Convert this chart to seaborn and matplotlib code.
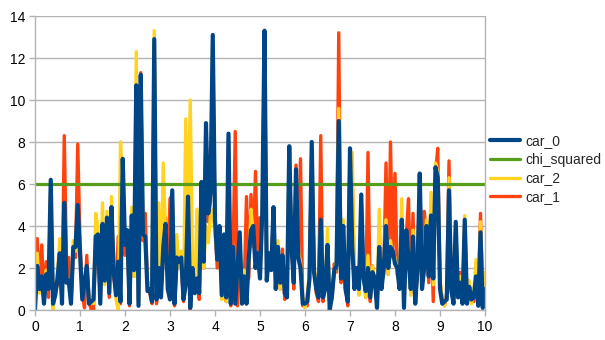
import numpy as np
import pandas as pd
import matplotlib
matplotlib.use("Agg")
import matplotlib.pyplot as plt
import seaborn as sns

# sample times (step 0.05 over 0..10)
t = np.round(np.arange(201) * 0.05, 2)

car_0 = [
    0.0, 2.1, 1.0, 1.6, 0.3, 1.7, 1.0, 6.2, 0.3, 0.7,
    1.5, 2.7, 0.3, 5.1, 1.3, 1.4, 0.3, 3.0, 3.0, 5.0,
    2.8, 0.5, 1.3, 2.1, 0.3, 0.4, 0.5, 3.5, 3.6, 0.3,
    4.1, 1.4, 4.4, 0.8, 4.9, 1.8, 0.7, 2.3, 0.4, 7.2,
    3.1, 3.8, 0.3, 4.5, 1.9, 10.7, 0.2, 11.2, 3.6, 3.5,
    0.9, 1.0, 0.4, 12.9, 0.5, 2.0, 0.6, 3.0, 4.1, 1.0,
    0.5, 5.7, 0.3, 2.5, 2.3, 2.5, 0.5, 1.2, 5.4, 0.1,
    2.0, 0.8, 1.5, 0.8, 6.1, 2.3, 8.9, 4.6, 5.6, 13.1,
    4.3, 2.4, 4.0, 0.7, 3.6, 0.6, 8.4, 0.3, 3.0, 0.3,
    2.0, 3.7, 0.3, 1.6, 0.3, 2.5, 3.8, 4.0, 2.0, 2.7,
    1.5, 4.6, 13.3, 1.4, 2.7, 1.9, 4.9, 1.0, 3.0, 1.3,
    2.6, 0.8, 0.6, 7.8, 3.0, 1.3, 6.7, 2.5, 2.0, 0.3,
    0.3, 0.4, 1.5, 8.0, 1.8, 1.0, 0.6, 4.3, 0.6, 1.0,
    3.1, 0.0, 0.7, 1.9, 2.1, 9.0, 1.5, 4.0, 1.0, 0.4,
    7.7, 3.0, 1.0, 2.0, 1.0, 5.5, 1.5, 0.9, 2.0, 0.6,
    1.8, 1.5, 0.1, 3.0, 1.0, 2.0, 4.0, 2.0, 3.0, 2.8,
    2.2, 2.0, 1.0, 4.3, 0.1, 3.8, 2.5, 1.0, 3.5, 0.3,
    2.0, 6.5, 1.0, 2.0, 4.0, 1.6, 4.5, 1.5, 6.8, 6.3,
    1.0, 0.3, 0.4, 0.5, 5.7, 1.0, 0.3, 4.2, 0.6, 1.3,
    0.3, 4.3, 0.3, 1.1, 0.5, 0.6, 1.6, 0.2, 3.7, 0.1,
    1.0,
]

car_1 = [
    0.2, 3.4, 1.2, 3.1, 0.5, 2.3, 0.6, 5.8, 0.1, 0.9,
    1.2, 2.4, 0.4, 8.3, 2.4, 2.5, 0.4, 2.7, 2.5, 7.9,
    3.3, 0.8, 0.1, 2.6, 0.4, 0.0, 0.0, 3.2, 3.4, 0.4,
    3.8, 1.8, 4.2, 0.6, 4.5, 1.5, 0.9, 3.5, 0.3, 6.9,
    2.6, 3.4, 0.2, 4.7, 1.6, 10.3, 0.4, 11.3, 3.3, 4.6,
    1.1, 0.8, 0.3, 12.6, 0.3, 1.8, 0.8, 2.6, 4.4, 1.5,
    5.3, 5.5, 0.2, 2.1, 2.6, 2.2, 0.4, 1.5, 6.5, 0.0,
    1.7, 1.0, 1.2, 0.5, 5.8, 2.0, 8.6, 4.2, 5.2, 12.8,
    4.0, 2.0, 3.5, 1.0, 3.2, 0.4, 8.1, 0.2, 2.6, 8.5,
    0.2, 3.4, 0.5, 1.3, 5.4, 1.5, 5.5, 3.0, 6.6, 2.4,
    4.4, 4.2, 12.6, 1.7, 2.4, 2.2, 4.5, 1.3, 2.7, 1.0,
    2.9, 0.5, 0.9, 7.4, 3.3, 1.0, 6.9, 2.8, 7.2, 0.2,
    0.5, 0.2, 1.8, 7.6, 2.1, 0.8, 0.4, 8.3, 0.4, 1.3,
    2.0, 0.2, 0.5, 2.2, 1.8, 13.2, 1.3, 4.2, 1.3, 0.2,
    7.4, 6.2, 1.3, 1.7, 1.3, 5.2, 1.8, 0.6, 7.5, 0.4,
    2.1, 1.2, 0.4, 2.7, 1.3, 1.7, 7.0, 1.7, 8.0, 2.5,
    6.5, 1.7, 1.3, 4.0, 0.4, 3.5, 5.3, 0.8, 4.6, 0.5,
    1.7, 6.2, 1.3, 4.7, 3.7, 1.3, 4.2, 0.4, 6.5, 7.7,
    1.4, 0.5, 0.2, 0.8, 7.1, 0.8, 0.5, 3.9, 0.9, 1.8,
    0.5, 4.0, 0.6, 0.9, 0.7, 0.4, 1.8, 0.4, 4.6, 0.3,
    1.2,
]

car_2 = [
    0.1, 2.7, 0.8, 1.4, 0.6, 1.9, 1.3, 5.9, 0.0, 1.0,
    1.8, 3.4, 0.5, 4.8, 1.5, 1.2, 0.5, 3.3, 2.8, 4.7,
    2.5, 0.7, 1.5, 1.8, 0.5, 0.6, 0.3, 4.6, 3.9, 0.6,
    5.1, 1.2, 4.7, 1.0, 5.4, 2.1, 0.5, 0.0, 8.0, 6.0,
    3.4, 3.5, 0.5, 4.9, 1.6, 12.3, 0.4, 11.0, 3.8, 3.2,
    1.1, 1.3, 0.6, 13.3, 0.7, 5.1, 0.9, 7.0, 3.8, 1.3,
    0.7, 5.4, 0.5, 3.6, 2.0, 2.8, 0.7, 9.1, 4.0, 10.0,
    2.3, 1.0, 4.8, 1.0, 5.8, 2.0, 4.0, 3.2, 4.5, 4.8,
    3.5, 2.7, 3.1, 0.5, 1.2, 0.4, 1.0, 0.5, 2.7, 0.6,
    1.8, 3.4, 0.6, 1.9, 0.5, 2.2, 4.8, 3.7, 2.3, 2.4,
    1.8, 4.3, 12.8, 1.7, 2.4, 2.2, 4.6, 1.2, 3.3, 1.0,
    2.3, 1.0, 0.8, 7.5, 3.3, 1.6, 5.2, 2.8, 2.3, 0.5,
    0.1, 0.7, 1.8, 7.7, 2.1, 1.3, 0.9, 4.0, 0.9, 1.3,
    3.9, 0.3, 1.0, 1.6, 2.4, 9.6, 1.8, 4.3, 0.8, 0.6,
    7.4, 7.5, 1.3, 1.7, 0.7, 5.2, 1.8, 0.6, 2.6, 0.9,
    2.1, 1.2, 0.4, 4.8, 1.3, 1.7, 4.3, 1.7, 3.3, 2.5,
    2.5, 1.7, 1.3, 5.3, 0.4, 3.5, 2.8, 0.7, 3.8, 0.6,
    2.3, 6.2, 1.3, 2.3, 4.3, 1.9, 5.6, 1.2, 7.0, 6.6,
    1.3, 0.5, 0.2, 0.8, 6.3, 1.3, 0.5, 4.0, 0.9, 1.6,
    0.6, 4.5, 0.6, 1.4, 0.3, 0.8, 2.4, 0.4, 4.2, 0.3,
    1.8,
]

# 95% critical value of chi-squared with 2 degrees of freedom
chi_squared_level = 5.99

x_ticks = list(range(0, 11))
y_ticks = list(range(0, 15, 2))

df = pd.DataFrame({
    "t": t,
    "car_0": car_0,
    "car_1": car_1,
    "car_2": car_2,
    "chi_squared": [chi_squared_level] * len(t),
})

colors = {
    "car_0": "#004586",
    "chi_squared": "#579d1c",
    "car_2": "#ffd320",
    "car_1": "#ff420e",
}
widths = {"car_0": 3.0, "chi_squared": 2.3, "car_2": 2.4, "car_1": 2.4}

sns.set_theme(style="white")
plt.rcParams["font.family"] = ["Liberation Sans", "DejaVu Sans"]

fig = plt.figure(figsize=(6.05, 3.40), dpi=100)
ax = fig.add_axes([35 / 605, 1 - 310 / 340, 450 / 605, 294 / 340])

# bottom-to-top drawing order; legend lists them in reverse
for name in ["car_1", "car_2", "chi_squared", "car_0"]:
    sns.lineplot(data=df, x="t", y=name, ax=ax, color=colors[name],
                 linewidth=widths[name], label=name, legend=False,
                 solid_joinstyle="round", solid_capstyle="round")

ax.set_xlim(0, 10)
ax.set_ylim(0, 14)
ax.set_xticks(x_ticks)
ax.set_yticks(y_ticks)
ax.set_xlabel("")
ax.set_ylabel("")
ax.grid(axis="y", color="#b3b3b3", linewidth=1.0)
ax.grid(axis="x", visible=False)
ax.set_axisbelow(True)
for side in ["left", "right", "bottom", "top"]:
    ax.spines[side].set_color("#b3b3b3")
    ax.spines[side].set_linewidth(1.0)
ax.spines["top"].set_visible(False)
ax.tick_params(axis="both", which="both", direction="out", length=4,
               width=1.0, color="#b3b3b3", labelsize=10, labelcolor="#000000",
               pad=3)
ax.tick_params(axis="x", bottom=True)
ax.tick_params(axis="y", left=True)

handles, labels = ax.get_legend_handles_labels()
order = ["car_0", "chi_squared", "car_2", "car_1"]
lut = dict(zip(labels, handles))
leg = fig.legend([lut[k] for k in order], order, loc="center left",
                 bbox_to_anchor=(484 / 605, 1 - 169 / 340), frameon=False,
                 fontsize=10, handlelength=2.2, handletextpad=0.35,
                 labelspacing=0.35, borderaxespad=0)

fig.savefig("out.png", dpi=100)
